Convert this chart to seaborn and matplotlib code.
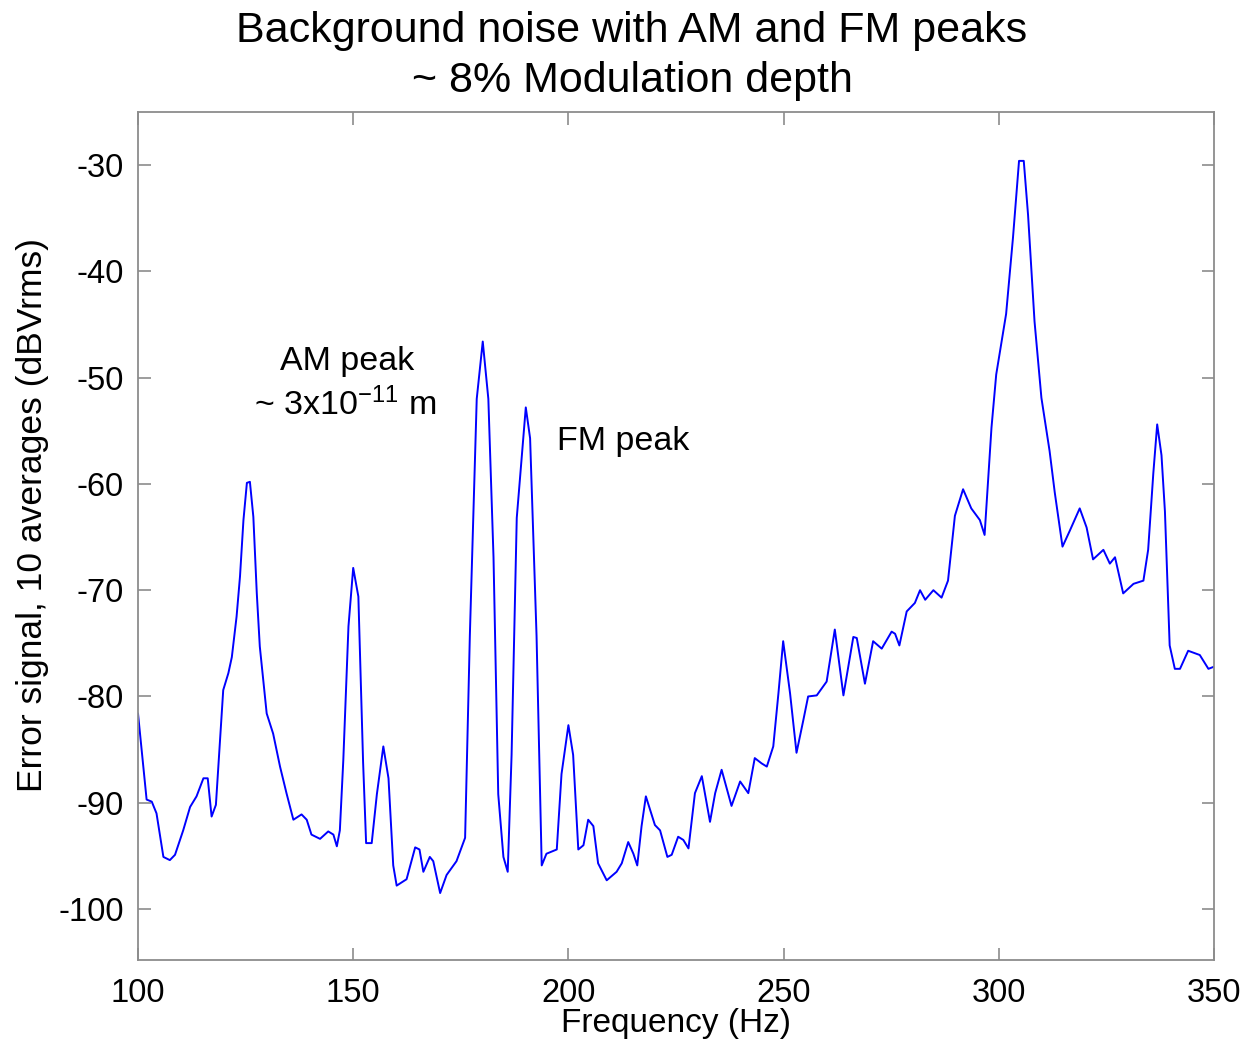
import numpy as np
import pandas as pd
import matplotlib
matplotlib.use("Agg")
import matplotlib.pyplot as plt
import seaborn as sns

# ---- data ----
freq_hz = [100.0, 102.0, 103.2, 104.3, 105.9, 107.4, 108.6, 110.5, 112.1, 113.6,
           115.2, 116.2, 117.1, 118.1, 119.0, 119.8, 121.0, 121.8, 122.9, 123.7,
           124.5, 125.3, 126.0, 126.8, 127.6, 128.3, 129.9, 131.4, 133.0, 134.5,
           136.1, 138.0, 139.2, 140.3, 142.3, 144.2, 145.4, 146.2, 146.9, 147.7,
           148.9, 150.0, 151.2, 152.3, 153.0, 154.3, 155.5, 157.0, 158.2, 159.3,
           160.1, 162.4, 164.4, 165.4, 166.3, 167.8, 168.6, 170.2, 171.7, 174.0,
           176.0, 177.1, 178.7, 180.1, 181.4, 182.6, 183.7, 184.9, 185.9, 186.8,
           188.0, 190.1, 191.1, 192.6, 193.8, 194.9, 197.3, 198.4, 200.0, 201.1,
           202.3, 203.5, 204.6, 205.8, 206.9, 208.9, 211.2, 212.4, 213.9, 215.1,
           216.0, 217.0, 218.0, 220.1, 221.3, 223.0, 224.0, 225.5, 226.7, 227.9,
           229.4, 231.0, 232.9, 234.1, 235.6, 237.9, 239.9, 241.8, 243.3, 244.9,
           246.1, 247.6, 248.8, 249.9, 251.5, 253.0, 254.6, 255.7, 257.7, 260.0,
           261.9, 263.9, 266.2, 267.0, 268.9, 270.8, 272.8, 275.1, 275.9, 276.9,
           278.6, 280.5, 281.7, 282.9, 284.8, 286.7, 288.2, 289.8, 291.7, 293.6,
           295.6, 296.7, 298.3, 299.4, 301.7, 303.3, 304.7, 305.8, 306.8, 308.3,
           309.9, 311.8, 313.0, 314.8, 316.5, 318.8, 320.4, 321.9, 324.3, 325.8,
           327.0, 328.9, 331.3, 333.6, 334.7, 335.9, 336.8, 337.8, 338.6, 339.7,
           340.9, 342.1, 344.0, 346.7, 348.7, 350.0]

error_dbv = [-81.6, -89.7, -89.9, -91.0, -95.1, -95.4, -94.9, -92.6, -90.4, -89.4,
             -87.7, -87.7, -91.3, -90.2, -84.4, -79.4, -77.8, -76.3, -72.5, -68.7,
             -63.4, -59.9, -59.8, -63.1, -70.3, -75.3, -81.6, -83.5, -86.6, -89.1,
             -91.6, -91.1, -91.6, -93.0, -93.4, -92.7, -93.0, -94.1, -92.6, -86.0,
             -73.4, -67.9, -70.6, -86.2, -93.8, -93.8, -89.2, -84.7, -87.7, -95.9,
             -97.8, -97.2, -94.2, -94.4, -96.5, -95.1, -95.5, -98.5, -96.8, -95.5,
             -93.3, -74.3, -52.0, -46.6, -52.0, -66.9, -89.2, -95.1, -96.5, -85.5,
             -63.2, -52.8, -55.7, -74.3, -95.9, -94.8, -94.4, -87.3, -82.7, -85.5,
             -94.4, -94.0, -91.6, -92.2, -95.7, -97.3, -96.5, -95.7, -93.7, -94.8,
             -95.9, -92.2, -89.4, -92.1, -92.6, -95.1, -94.9, -93.2, -93.5, -94.3,
             -89.1, -87.5, -91.8, -89.1, -86.9, -90.3, -88.0, -89.1, -85.8, -86.3,
             -86.6, -84.7, -79.7, -74.8, -79.7, -85.3, -82.2, -80.0, -79.9, -78.6,
             -73.7, -79.9, -74.4, -74.5, -78.8, -74.8, -75.5, -73.9, -74.1, -75.2,
             -72.0, -71.2, -70.0, -70.9, -70.0, -70.7, -69.1, -63.0, -60.5, -62.3,
             -63.4, -64.8, -54.7, -49.7, -44.0, -36.8, -29.6, -29.6, -34.7, -44.7,
             -51.9, -56.9, -60.8, -65.9, -64.4, -62.3, -64.1, -67.1, -66.2, -67.5,
             -66.9, -70.3, -69.4, -69.1, -66.2, -59.0, -54.4, -57.3, -62.6, -75.2,
             -77.4, -77.4, -75.7, -76.1, -77.4, -77.2]

x_ticks = [100, 150, 200, 250, 300, 350]
y_ticks = [-100, -90, -80, -70, -60, -50, -40, -30]

title_lines = ["Background noise with AM and FM peaks", "~ 8% Modulation depth"]
x_label = "Frequency (Hz)"
y_label = "Error signal, 10 averages (dBVrms)"

# ---- style ----
sns.set_style("ticks")
plt.rcParams["font.family"] = ["Liberation Sans", "DejaVu Sans"]
plt.rcParams["mathtext.fontset"] = "custom"
plt.rcParams["mathtext.rm"] = "Liberation Sans"
plt.rcParams["mathtext.it"] = "Liberation Sans"
plt.rcParams["mathtext.bf"] = "Liberation Sans"
plt.rcParams["axes.unicode_minus"] = False
plt.rcParams["text.color"] = "black"
plt.rcParams["axes.labelcolor"] = "black"

df = pd.DataFrame({"freq": freq_hz, "err": error_dbv})

fig = plt.figure(figsize=(12.45, 10.41), dpi=100)
ax = fig.add_axes([138 / 1245, 1 - 960 / 1041, (1214 - 138) / 1245, (960 - 112) / 1041])

sns.lineplot(data=df, x="freq", y="err", ax=ax, color="#0000ff", linewidth=1.4,
             sort=False, estimator=None)

ax.set_xlim(100, 350)
ax.set_ylim(-104.8, -25.0)
ax.set_xticks(x_ticks)
ax.set_yticks(y_ticks)
ax.set_xticklabels([str(t) for t in x_ticks])
ax.set_yticklabels([str(t) for t in y_ticks])

for sp in ax.spines.values():
    sp.set_visible(True)
    sp.set_color("#8c8c8c")
    sp.set_linewidth(1.3)

ax.tick_params(direction="in", length=9, width=1.2, color="#8c8c8c",
               labelsize=23.5, labelcolor="black",
               top=True, right=True, bottom=True, left=True)
ax.tick_params(axis="x", pad=13)
ax.tick_params(axis="y", pad=10)

ax.set_xlabel(x_label, fontsize=24)
ax.set_ylabel(y_label, fontsize=25.5)
ax.xaxis.set_label_coords(0.5, -0.057)
ax.yaxis.set_label_coords(-0.083, 0.525)

# two-line title
fig.text(632 / 1245, 1 - 31 / 1041, title_lines[0], fontsize=31, ha="center", va="center")
fig.text(632 / 1245, 1 - 81 / 1041, title_lines[1], fontsize=31, ha="center", va="center")

ax.text(148.6, -48.5, "AM peak", fontsize=24.5, ha="center", va="center")
ax.text(148.1, -52.6, r"~ 3x10$^{-11}$ m", fontsize=24.5, ha="center", va="center")
ax.text(212.7, -56.0, "FM peak", fontsize=24.5, ha="center", va="center")

fig.savefig("out.png", dpi=100)
